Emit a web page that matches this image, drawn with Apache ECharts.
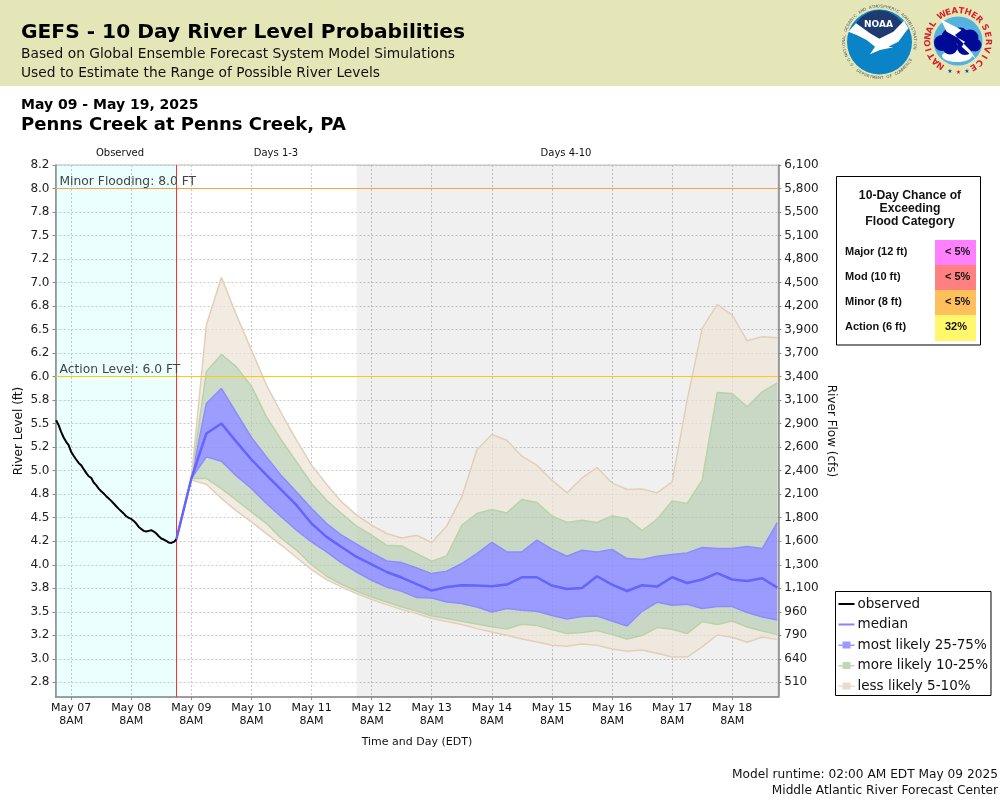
<!DOCTYPE html>
<html>
<head>
<meta charset="utf-8">
<title>GEFS River Level Probabilities</title>
<script src="https://cdn.jsdelivr.net/npm/echarts@6/dist/echarts.min.js"></script>
<style>
  html, body { margin: 0; padding: 0; background: #fff; }
  #chart { width: 1000px; height: 800px; }
</style>
</head>
<body>
<div id="chart"></div>
<script>
// times are written as hours after May 07 00:00 EDT
var observedStart = 2;
var observedStep = 1;
var forecastStart = 50;
var forecastStep = 6;
var forecastNow = 50;
var days4Start = 122;
var xMin = 1.75;
var xMax = 290.4;

var dayTicks = [8, 32, 56, 80, 104, 128, 152, 176, 200, 224, 248, 272];
var dayLabels = ['May 07', 'May 08', 'May 09', 'May 10', 'May 11', 'May 12', 'May 13', 'May 14', 'May 15', 'May 16', 'May 17', 'May 18'];

var levelTicks = [8.25, 8, 7.75, 7.5, 7.25, 7, 6.75, 6.5, 6.25, 6, 5.75, 5.5, 5.25, 5, 4.75, 4.5, 4.25, 4, 3.75, 3.5, 3.25, 3, 2.75];
var levelLabels = ['8.2', '8.0', '7.8', '7.5', '7.2', '7.0', '6.8', '6.5', '6.2', '6.0', '5.8', '5.5', '5.2', '5.0', '4.8', '4.5', '4.2', '4.0', '3.8', '3.5', '3.2', '3.0', '2.8'];
var flowLabels = ['6,100', '5,800', '5,500', '5,100', '4,800', '4,500', '4,200', '3,900', '3,700', '3,400', '3,100', '2,900', '2,600', '2,400', '2,100', '1,800', '1,600', '1,300', '1,100', '960', '790', '640', '510'];

var observed = [5.537, 5.484, 5.413, 5.353, 5.307, 5.271, 5.2, 5.158, 5.119, 5.083, 5.059, 5.016, 4.977, 4.941, 4.924, 4.874, 4.846, 4.81, 4.782, 4.757, 4.729, 4.704, 4.679, 4.651, 4.622, 4.594, 4.569, 4.544, 4.516, 4.498, 4.487, 4.466, 4.438, 4.402, 4.381, 4.36, 4.353, 4.36, 4.367, 4.353, 4.332, 4.303, 4.279, 4.268, 4.253, 4.236, 4.232, 4.243, 4.268];

var p95 = [4.268, 4.917, 6.548, 7.055, 6.654, 6.282, 5.91, 5.608, 5.324, 5.059, 4.856, 4.668, 4.527, 4.42, 4.332, 4.285, 4.314, 4.236, 4.413, 4.721, 5.22, 5.385, 5.324, 5.154, 5.059, 4.899, 4.764, 4.923, 5.034, 4.87, 4.8, 4.806, 4.764, 4.881, 5.75, 6.513, 6.768, 6.654, 6.381, 6.423, 6.413];
var p90 = [4.268, 4.917, 6.051, 6.236, 6.104, 5.899, 5.572, 5.324, 5.094, 4.864, 4.686, 4.545, 4.41, 4.314, 4.207, 4.2, 4.119, 4.037, 4.094, 4.42, 4.545, 4.587, 4.551, 4.694, 4.662, 4.519, 4.449, 4.473, 4.449, 4.519, 4.491, 4.364, 4.484, 4.679, 4.651, 4.899, 5.832, 5.821, 5.679, 5.838, 5.934];
var p75 = [4.268, 4.917, 5.715, 5.874, 5.615, 5.353, 5.147, 4.945, 4.774, 4.598, 4.438, 4.314, 4.218, 4.126, 4.04, 4.023, 3.966, 3.906, 3.931, 4.013, 4.119, 4.239, 4.136, 4.136, 4.261, 4.165, 4.09, 4.154, 4.136, 4.162, 4.066, 4.055, 4.09, 4.109, 4.126, 4.183, 4.172, 4.172, 4.194, 4.172, 4.449];
var median = [4.268, 4.917, 5.396, 5.502, 5.306, 5.119, 4.952, 4.793, 4.633, 4.438, 4.296, 4.189, 4.083, 4.005, 3.923, 3.864, 3.793, 3.725, 3.764, 3.782, 3.779, 3.771, 3.789, 3.867, 3.867, 3.779, 3.743, 3.753, 3.878, 3.789, 3.721, 3.782, 3.768, 3.867, 3.806, 3.843, 3.91, 3.843, 3.828, 3.856, 3.757];
var p25 = [4.268, 4.917, 5.147, 5.101, 4.945, 4.811, 4.651, 4.508, 4.367, 4.243, 4.136, 4.019, 3.923, 3.835, 3.764, 3.717, 3.651, 3.647, 3.604, 3.587, 3.551, 3.498, 3.534, 3.516, 3.505, 3.46, 3.423, 3.449, 3.455, 3.402, 3.349, 3.505, 3.601, 3.569, 3.58, 3.534, 3.555, 3.555, 3.491, 3.445, 3.413];
var p10 = [4.268, 4.917, 4.917, 4.81, 4.686, 4.562, 4.438, 4.279, 4.154, 4.0, 3.878, 3.793, 3.721, 3.657, 3.604, 3.551, 3.508, 3.455, 3.428, 3.399, 3.37, 3.34, 3.317, 3.367, 3.353, 3.311, 3.268, 3.279, 3.3, 3.257, 3.21, 3.247, 3.332, 3.314, 3.268, 3.396, 3.364, 3.402, 3.338, 3.296, 3.257];
var p5 = [4.268, 4.9, 4.856, 4.704, 4.572, 4.455, 4.33, 4.207, 4.077, 3.949, 3.842, 3.764, 3.694, 3.63, 3.576, 3.523, 3.481, 3.428, 3.396, 3.364, 3.321, 3.285, 3.25, 3.21, 3.179, 3.144, 3.133, 3.157, 3.144, 3.104, 3.08, 3.094, 3.059, 3.019, 3.019, 3.126, 3.253, 3.229, 3.176, 3.232, 3.204];

var floodCategories = ['Major (12 ft)', 'Mod (10 ft)', 'Minor (8 ft)', 'Action (6 ft)'];
var floodChances = ['< 5%', '< 5%', '< 5%', '32%'];
var floodColors = ['#ff80ff', '#ff8080', '#ffc05c', '#fff86c'];

var FONT = '"DejaVu Sans"';
var TAN = '#e3cfb8', GREEN = '#b9d2ab', BLUE = '#8c8cff';
var TAN_FILL = 'rgba(238,228,215,0.75)', GREEN_FILL = 'rgba(184,205,176,0.7)', BLUE_FILL = 'rgba(140,140,255,0.85)';
var NAME_BLUE = 'most likely 25-75%', NAME_GREEN = 'more likely 10-25%', NAME_TAN = 'less likely 5-10%';
var BAND_ICON = 'path://M0 6h4v1.5H0z M4 3h8v7H4z M12 6h4v1.5h-4z';
var LINE_ICON = 'path://M0 6h16v2H0z';

function toTime(h) {
    return Date.UTC(2025, 4, 7) + h * 3600000;
}

function forecastPairs(upper, lower) {
    return upper.map(function (v, i) {
        return [toTime(forecastStart + i * forecastStep), lower ? v - lower[i] : v];
    });
}

function band(name, upper, lower, edge, fill) {
    var s = {
        name: name,
        type: 'line',
        stack: 'range',
        symbol: 'none',
        data: forecastPairs(upper, lower),
        lineStyle: { color: edge, width: 1.5 },
        itemStyle: { color: edge },
        z: 3
    };
    if (fill) s.areaStyle = { color: fill, opacity: 1 };
    return s;
}

function txt(x, y, text, font, fill, align) {
    return { type: 'text', x: x, y: y + 1, silent: true, style: { text: text, font: font, fill: fill || '#000', align: align || 'left', verticalAlign: 'middle' } };
}

function poly(points, fill) {
    return { type: 'polygon', silent: true, shape: { points: points.map(function (p) { return [p[0] / 3 + 830, p[1] / 3]; }) }, style: { fill: fill } };
}

function disc(cx, cy, r, fill) {
    return { type: 'circle', silent: true, shape: { cx: cx, cy: cy, r: r }, style: { fill: fill } };
}

// letters placed along a circle, angles in degrees clockwise from the top
function arcText(text, cx, cy, r, from, to, font, fill, bottom) {
    var out = [];
    for (var i = 0; i < text.length; i++) {
        var a = (from + (to - from) * i / (text.length - 1)) * Math.PI / 180;
        out.push({
            type: 'text', silent: true,
            x: cx + r * Math.sin(a), y: cy - r * Math.cos(a),
            rotation: bottom ? Math.PI - a : -a,
            style: { text: text[i], font: font, fill: fill, align: 'center', verticalAlign: 'middle' }
        });
    }
    return out;
}

function logos() {
    var e = [];
    // NOAA
    e.push(disc(879.5, 42, 32.5, '#0a84c6'));
    e.push(poly([[78, 70], [95, 50], [120, 35], [147, 30], [175, 35], [200, 50], [218, 68], [190, 95], [165, 112], [148, 116], [125, 105], [100, 85]], '#1e3a6e'));
    e.push(poly([[55, 95], [78, 70], [120, 100], [148, 116], [190, 95], [222, 62], [235, 85], [205, 125], [175, 140], [190, 142], [150, 150], [120, 163], [135, 140], [110, 120], [80, 105]], '#ffffff'));
    e.push(txt(878.5, 24, 'NOAA', 'bold 9px ' + FONT, '#ffffff', 'center'));
    e = e.concat(arcText('NATIONAL OCEANIC AND ATMOSPHERIC ADMINISTRATION', 879.5, 42, 35.5, -112, 100, '4px ' + FONT, '#4a5560'));
    e = e.concat(arcText('U.S. DEPARTMENT OF COMMERCE', 879.5, 42, 36, 240, 120, '4px ' + FONT, '#4a5560', true));
    // NWS
    e.push(disc(958, 41, 24.5, '#55b2de'));
    e.push({ type: 'ellipse', silent: true, shape: { cx: 957, cy: 56, rx: 15, ry: 6 }, style: { fill: '#ffffff' } });
    [[942, 43, 8], [950, 37, 8.5], [960, 36, 8.5], [970, 38, 8.5], [975, 45, 6.5], [965, 47, 8], [950, 47, 7.5]].forEach(function (c) {
        e.push(disc(c[0], c[1], c[2], '#000a96'));
    });
    e.push(poly([[332, 58], [395, 90], [375, 105], [420, 150], [440, 180], [395, 140], [405, 125], [350, 95]], '#ffffff'));
    e = e.concat(arcText('NATIONAL', 958, 41, 30, -145, -56, 'bold 8.5px ' + FONT, '#d8222a'));
    e = e.concat(arcText('WEATHER', 958, 41, 30, -32, 45, 'bold 8.5px ' + FONT, '#d8222a'));
    e = e.concat(arcText('SERVICE', 958, 41, 30, 63, 150, 'bold 8.5px ' + FONT, '#d8222a'));
    e.push(txt(950, 70.5, '★', '6px ' + FONT, '#1f3fa8', 'center'));
    e.push(txt(958.5, 71.5, '★', '6px ' + FONT, '#d8222a', 'center'));
    e.push(txt(967, 70, '★', '6px ' + FONT, '#1f3fa8', 'center'));
    return e;
}

function floodPanel() {
    var ARIAL = '"Liberation Sans"';
    var e = [{ type: 'rect', silent: true, shape: { x: 836.5, y: 176.5, width: 144, height: 168.5 }, style: { fill: '#fff', stroke: '#000', lineWidth: 1 } }];
    e.push(txt(910, 194.5, '10-Day Chance of', 'bold 12.2px ' + ARIAL, '#111', 'center'));
    e.push(txt(910, 207.5, 'Exceeding', 'bold 12.2px ' + ARIAL, '#111', 'center'));
    e.push(txt(910, 220.5, 'Flood Category', 'bold 12.2px ' + ARIAL, '#111', 'center'));
    floodCategories.forEach(function (label, i) {
        var top = 240 + i * 25;
        e.push({ type: 'rect', silent: true, shape: { x: 935, y: top, width: 41, height: i === 3 ? 26 : 25 }, style: { fill: floodColors[i] } });
        e.push(txt(845, top + 10.5, label, 'bold 11px ' + ARIAL, '#111'));
        e.push(txt(945, top + 10.5, floodChances[i], 'bold 11px ' + ARIAL, '#111'));
    });
    return e;
}

var headerElements = [
    { type: 'rect', silent: true, shape: { x: 0, y: 0, width: 1000, height: 86 }, style: { fill: '#e5e6b8' } },
    txt(21, 32, 'GEFS - 10 Day River Level Probabilities', 'bold 20.2px ' + FONT, '#000'),
    txt(21, 53.5, 'Based on Global Ensemble Forecast System Model Simulations', '13.8px ' + FONT, '#111'),
    txt(21, 72.5, 'Used to Estimate the Range of Possible River Levels', '13.8px ' + FONT, '#111'),
    txt(21, 104.5, 'May 09 - May 19, 2025', 'bold 14px ' + FONT, '#000'),
    txt(21, 124.5, 'Penns Creek at Penns Creek, PA', 'bold 18px ' + FONT, '#000'),
    txt(120, 152.5, 'Observed', '10px ' + FONT, '#111', 'center'),
    txt(276, 152.5, 'Days 1-3', '10px ' + FONT, '#111', 'center'),
    txt(566, 152.5, 'Days 4-10', '10px ' + FONT, '#111', 'center'),
    txt(998, 774, 'Model runtime: 02:00 AM EDT May 09 2025', '12.2px ' + FONT, '#111', 'right'),
    txt(998, 790, 'Middle Atlantic River Forecast Center', '12.2px ' + FONT, '#111', 'right')
];

var gridLine = { show: true, lineStyle: { color: '#c8c8c8', width: 1, type: [2, 2] } };
var axisLine = { show: true, onZero: false, lineStyle: { color: '#888888', width: 1.5 } };
var axisTick = { show: true, length: 3, lineStyle: { color: '#888888' } };

var chart = echarts.init(document.getElementById('chart'), null, { renderer: 'canvas' });

chart.setOption({
    animation: false,
    textStyle: { fontFamily: FONT },
    grid: { left: 55.5, right: 221.7, top: 165, bottom: 103, show: true, borderColor: '#bdbdbd', borderWidth: 1, backgroundColor: 'transparent', outerBoundsMode: 'none' },
    xAxis: [
        // series sit on this time axis so the stacks add up on the level values
        { type: 'time', min: toTime(xMin), max: toTime(xMax), position: 'top', show: false, splitLine: { show: false } },
        // same span in hours, it only draws the day ticks
        {
            type: 'value', min: xMin, max: xMax, position: 'bottom',
            name: 'Time and Day (EDT)', nameLocation: 'middle', nameGap: 40, nameMoveOverlap: false,
            nameTextStyle: { color: '#111', fontSize: 11, fontFamily: FONT },
            axisLine: axisLine,
            axisTick: Object.assign({ customValues: dayTicks }, axisTick),
            splitLine: gridLine,
            axisLabel: {
                customValues: dayTicks, color: '#111', fontSize: 11, lineHeight: 12.5, margin: 5, showMinLabel: true, showMaxLabel: true,
                formatter: function (v) { return dayLabels[dayTicks.indexOf(v)] + '\n8AM'; }
            }
        }
    ],
    yAxis: [
        {
            type: 'value', min: 2.594, max: 8.25,
            name: 'River Level (ft)', nameLocation: 'middle', nameGap: 31, nameRotate: 90, nameMoveOverlap: false,
            nameTextStyle: { color: '#111', fontSize: 12, fontFamily: FONT },
            axisLine: axisLine,
            axisTick: Object.assign({ customValues: levelTicks }, axisTick),
            splitLine: gridLine,
            axisLabel: {
                customValues: levelTicks, color: '#222', fontSize: 12, margin: 6, showMinLabel: true, showMaxLabel: true, padding: [2, 0, 0, 0],
                formatter: function (v) { return levelLabels[levelTicks.indexOf(v)]; }
            }
        },
        {
            type: 'value', min: 2.594, max: 8.25, position: 'right',
            name: 'River Flow (cfs)', nameLocation: 'middle', nameGap: 47, nameRotate: -90, nameMoveOverlap: false,
            nameTextStyle: { color: '#111', fontSize: 12, fontFamily: FONT },
            axisLine: axisLine,
            axisTick: Object.assign({ customValues: levelTicks }, axisTick),
            splitLine: { show: false },
            axisLabel: {
                customValues: levelTicks, color: '#222', fontSize: 12, margin: 6, showMinLabel: true, showMaxLabel: true, padding: [2, 0, 0, 0],
                formatter: function (v) { return flowLabels[levelTicks.indexOf(v)]; }
            }
        }
    ],
    legend: {
        show: true, orient: 'vertical', left: 835.5, top: 591.5,
        selectedMode: false, borderColor: '#000', borderWidth: 1, backgroundColor: '#fff',
        padding: [5.5, 3, 2.5, 3], itemWidth: 16, itemHeight: 14, itemGap: 6.5,
        textStyle: { color: '#111', fontSize: 13.5, fontFamily: FONT, padding: [0, 0, 0, -2] },
        data: [
            { name: 'observed', icon: LINE_ICON, itemStyle: { color: '#000' } },
            { name: 'median', icon: LINE_ICON, itemStyle: { color: '#8585ff' } },
            { name: NAME_BLUE, icon: BAND_ICON, itemStyle: { color: '#9a9aff' } },
            { name: NAME_GREEN, icon: BAND_ICON, itemStyle: { color: '#c0d8b2' } },
            { name: NAME_TAN, icon: BAND_ICON, itemStyle: { color: '#ecdccb' } }
        ]
    },
    graphic: { elements: headerElements.concat(logos(), floodPanel()) },
    series: [
        {
            name: 'shading', type: 'line', data: [], silent: true, z: 1,
            markArea: {
                silent: true,
                data: [
                    [{ xAxis: toTime(xMin), itemStyle: { color: 'rgba(0,255,255,0.08)' } }, { xAxis: toTime(forecastNow) }],
                    [{ xAxis: toTime(days4Start), itemStyle: { color: 'rgba(0,0,0,0.06)' } }, { xAxis: toTime(xMax) }]
                ]
            }
        },
        band(NAME_TAN, p5, null, TAN, null),
        band(NAME_TAN, p10, p5, GREEN, TAN_FILL),
        band(NAME_GREEN, p25, p10, BLUE, GREEN_FILL),
        band(NAME_BLUE, p75, p25, BLUE, BLUE_FILL),
        band(NAME_GREEN, p90, p75, GREEN, GREEN_FILL),
        band(NAME_TAN, p95, p90, TAN, TAN_FILL),
        {
            name: 'median', type: 'line', symbol: 'none', z: 5,
            data: median.map(function (v, i) { return [toTime(forecastStart + i * forecastStep), v]; }),
            lineStyle: { color: '#6464ff', width: 2.5 }, itemStyle: { color: '#6464ff' }
        },
        {
            name: 'observed', type: 'line', symbol: 'none', z: 6,
            data: observed.map(function (v, i) { return [toTime(observedStart + i * observedStep), v]; }),
            lineStyle: { color: '#000', width: 2 }, itemStyle: { color: '#000' }
        },
        {
            name: 'levels', type: 'line', data: [], silent: true, z: 7,
            markLine: {
                silent: true, symbol: 'none',
                data: [
                    { yAxis: 8, lineStyle: { color: '#ffa040', width: 1, type: 'solid' }, label: { formatter: 'Minor Flooding: 8.0 FT', position: 'insideStartTop', color: '#444', fontSize: 12.3, distance: [4, 1], fontFamily: FONT } },
                    { yAxis: 6, lineStyle: { color: '#ffcc00', width: 1, type: 'solid' }, label: { formatter: 'Action Level: 6.0 FT', position: 'insideStartTop', color: '#444', fontSize: 12.3, distance: [4, 1], fontFamily: FONT } },
                    { xAxis: toTime(forecastNow), lineStyle: { color: '#ff3030', width: 1, type: 'solid' }, label: { show: false } }
                ]
            }
        }
    ]
});

window.addEventListener('resize', function () {
    chart.resize();
});
</script>
</body>
</html>
